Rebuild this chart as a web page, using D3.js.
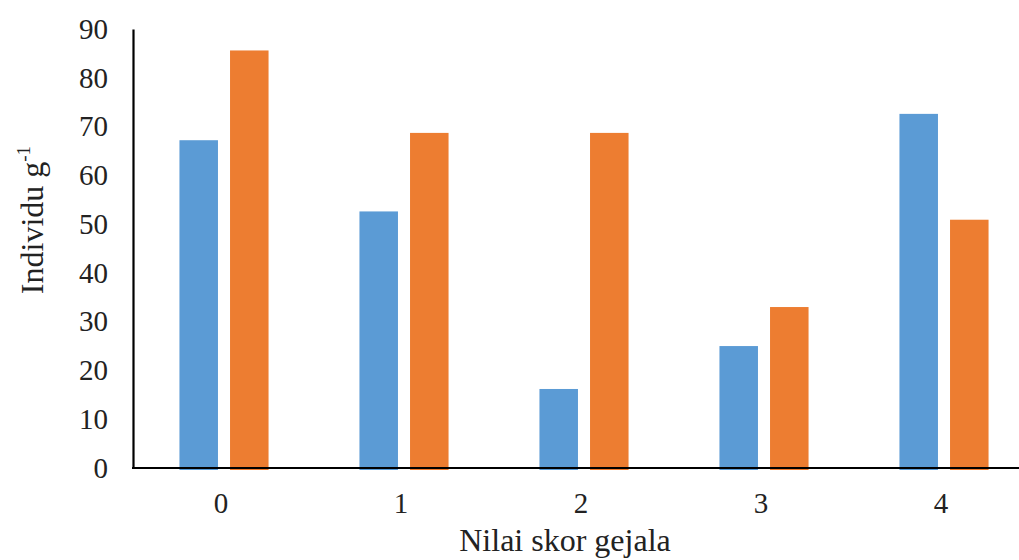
<!DOCTYPE html>
<html>
<head>
<meta charset="utf-8">
<script src="https://cdn.jsdelivr.net/npm/d3@7"></script>
<style>
html,body{margin:0;padding:0;background:#fff;}
svg{display:block;}
text{font-family:"Liberation Serif","Times New Roman",serif;fill:#222;}
</style>
</head>
<body>
<svg id="chart" width="1019" height="560"></svg>
<script>
const categories = ["0","1","2","3","4"];
const seriesA = [67.2, 52.6, 16.2, 25.0, 72.6];
const seriesB = [85.6, 68.7, 68.7, 33.0, 50.9];
const yTicks = [0,10,20,30,40,50,60,70,80,90];
const colors = ["#5B9BD5","#ED7D31"];

const svg = d3.select("#chart");
const mLeft = 134, mRight = 1034, mTop = 29, mBottom = 468;

const x = d3.scaleBand().domain(categories).range([mLeft, mRight]);
const y = d3.scaleLinear().domain([0, 90]).range([mBottom, mTop]);

const step = x.bandwidth();
const bw = step * 0.214;
const gap = step * 0.067;

const data = categories.map((c, i) => ({c, a: seriesA[i], b: seriesB[i]}));

const g = svg.append("g");
data.forEach(d => {
  const cx = x(d.c) + step / 2;
  g.append("rect")
    .attr("x", cx - gap / 2 - bw).attr("width", bw)
    .attr("y", y(d.a)).attr("height", y(0) - y(d.a) + 2)
    .attr("fill", colors[0]);
  g.append("rect")
    .attr("x", cx + gap / 2).attr("width", bw)
    .attr("y", y(d.b)).attr("height", y(0) - y(d.b) + 2)
    .attr("fill", colors[1]);
});

// y axis
const yAxis = d3.axisLeft(y).tickValues(yTicks).tickSize(0).tickPadding(25);
const ya = svg.append("g").attr("transform", `translate(${mLeft - 1},0)`).call(yAxis);
ya.select(".domain").attr("stroke", "#000").attr("stroke-width", 2.2);
ya.selectAll("text").attr("font-size", 29).attr("font-family", "Liberation Serif").attr("fill", "#222").attr("dy", "0.32em");

// x axis
const xAxis = d3.axisBottom(x).tickSize(0).tickPadding(24);
const xa = svg.append("g").attr("transform", `translate(-3,${mBottom})`).call(xAxis);
xa.select(".domain").attr("stroke", "#000").attr("stroke-width", 2.2).attr("d", `M${mLeft + 1},0H1025`);
xa.selectAll("text").attr("font-size", 29).attr("font-family", "Liberation Serif").attr("fill", "#222").attr("dy", "0.71em");

// axis titles
svg.append("text")
  .attr("x", 565).attr("y", 551)
  .attr("text-anchor", "middle")
  .attr("font-size", 32)
  .text("Nilai skor gejala");

const yt = svg.append("text")
  .attr("transform", "translate(43,220) rotate(-90)")
  .attr("text-anchor", "middle")
  .attr("font-size", 32);
yt.append("tspan").text("Individu g");
yt.append("tspan").attr("font-size", 19).attr("dy", -13).text("-1");
</script>
</body>
</html>
